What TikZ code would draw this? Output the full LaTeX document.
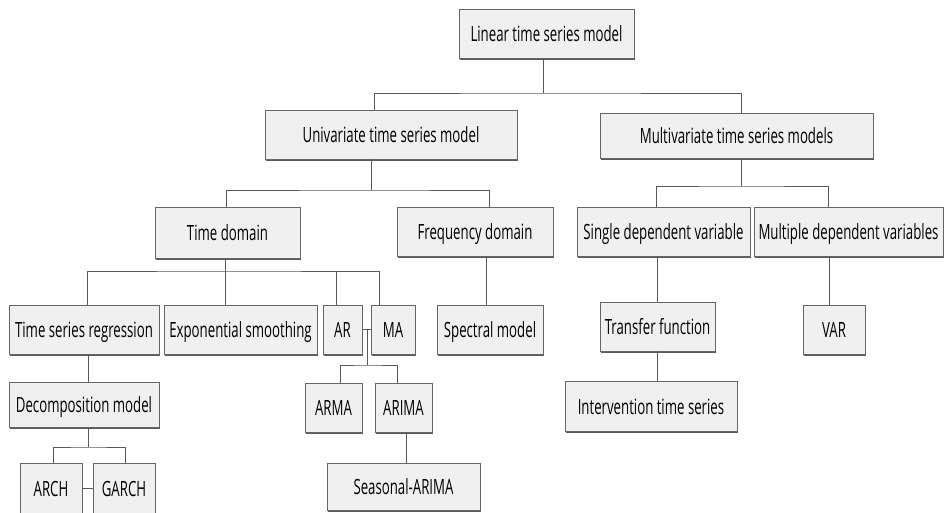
\documentclass[tikz,border=0pt]{standalone}
\usepackage{fontspec}
\setmainfont{Open Sans}[FakeStretch=0.63]
\usetikzlibrary{shadows}
\begin{document}
\begin{tikzpicture}[x=1pt,y=-1pt,
  box/.style={draw=black!60,line width=0.9pt,fill=black!6,inner sep=0pt,
    font=\fontsize{21}{24}\selectfont,text height=16pt,text depth=0pt,
    drop shadow={shadow xshift=0.8pt,shadow yshift=-1.6pt,fill=black!65,opacity=1}},
  conn/.style={draw=black!65,line width=0.9pt}]
\fill[white] (0,0) rectangle (944,513);
\useasboundingbox (0,0) rectangle (944,513);
\node[box,minimum width=175pt,minimum height=49pt] (lin) at (546.5,33.5) {Linear time series model};
\node[box,minimum width=252pt,minimum height=49pt] (uni) at (391,134.5) {Univariate time series model};
\node[box,minimum width=273pt,minimum height=45pt] (mul) at (736.5,135.5) {Multivariate time series models};
\node[box,minimum width=145pt,minimum height=51pt] (tdom) at (227.5,232.5) {Time domain};
\node[box,minimum width=156pt,minimum height=49pt] (fdom) at (475,231.5) {Frequency domain};
\node[box,minimum width=173pt,minimum height=49pt] (sdv) at (663.5,231.5) {Single dependent variable};
\node[box,minimum width=189pt,minimum height=49pt] (mdv) at (848.5,231.5) {Multiple dependent variables};
\node[box,minimum width=150pt,minimum height=49pt] (tsr) at (84,329.5) {Time series regression};
\node[box,minimum width=153pt,minimum height=49pt] (exs) at (240.5,329.5) {Exponential smoothing};
\node[box,minimum width=39pt,minimum height=49pt] (ar) at (342.5,329.5) {AR};
\node[box,minimum width=44pt,minimum height=49pt] (ma) at (393,329.5) {MA};
\node[box,minimum width=106pt,minimum height=49pt] (spec) at (490,329.5) {Spectral model};
\node[box,minimum width=115pt,minimum height=49pt] (tf) at (657.5,326.5) {Transfer function};
\node[box,minimum width=62pt,minimum height=49pt] (var) at (834,329.5) {VAR};
\node[box,minimum width=150pt,minimum height=45pt] (dec) at (84,404.5) {Decomposition model};
\node[box,minimum width=57pt,minimum height=49pt] (arma) at (333.5,407.5) {ARMA};
\node[box,minimum width=57pt,minimum height=49pt] (arima) at (403.5,407.5) {ARIMA};
\node[box,minimum width=172pt,minimum height=50pt] (its) at (651,406) {Intervention time series};
\node[box,minimum width=62pt,minimum height=50pt] (arch) at (51,488) {ARCH};
\node[box,minimum width=62pt,minimum height=50pt] (garch) at (124,488) {GARCH};
\node[box,minimum width=153pt,minimum height=47pt] (sar) at (403.5,486.5) {Seasonal-ARIMA};
% junctions
\coordinate (j1) at (543,93);
\coordinate (j2) at (371,190);
\coordinate (j3) at (741,186);
\coordinate (j4) at (225,271);
\coordinate (j5) at (367,330);
\coordinate (j6) at (367,365);
\coordinate (j7) at (88,447);
% connectors
\draw[conn] ([xshift=-3.5pt]lin.south) -- (j1);
\draw[conn] ([xshift=-17pt]uni.north) |- (j1) -| ([xshift=4.5pt]mul.north);
\draw[conn] ([xshift=-20pt]uni.south) -- (j2);
\draw[conn] ([xshift=-1.5pt]tdom.north) |- (j2) -| ([xshift=14pt]fdom.north);
\draw[conn] ([xshift=4.5pt]mul.south) -- (j3);
\draw[conn] ([xshift=-7.5pt]sdv.north) |- (j3) -| ([xshift=-20.5pt]mdv.north);
\draw[conn] ([xshift=-2.5pt]tdom.south) -- (j4);
\draw[conn] ([xshift=3pt]tsr.north) |- (j4) -| ([xshift=-14pt]ma.north);
\draw[conn] ([xshift=-6.5pt]ar.north) -- ([xshift=-6.5pt]ar.north |- j4);
\draw[conn] ([xshift=-15.5pt]exs.north) -- (j4);
\draw[conn] (ar.east) -- (ma.west);
\draw[conn] (j5) -- (j6);
\draw[conn] ([xshift=6.5pt]arma.north) |- (j6) -| ([xshift=-6.5pt]arima.north);
\draw[conn] ([xshift=2.5pt]arima.south) -- ([xshift=2.5pt]arima.south |- sar.north);
\draw[conn] ([xshift=4pt]tsr.south) -- ([xshift=4pt]tsr.south |- dec.north);
\draw[conn] ([xshift=4pt]dec.south) -- (j7);
\draw[conn] ([xshift=2pt]arch.north) |- (j7) -| ([xshift=1pt]garch.north);
\draw[conn] (arch.east) -- (garch.west);
\draw[conn] ([xshift=11pt]fdom.south) -- ([xshift=11pt]fdom.south |- spec.north);
\draw[conn] ([xshift=-6.5pt]sdv.south) -- ([xshift=-6.5pt]sdv.south |- tf.north);
\draw[conn] (tf.south) -- (tf.south |- its.north);
\draw[conn] ([xshift=-19.5pt]mdv.south) -- ([xshift=-19.5pt]mdv.south |- var.north);
\end{tikzpicture}
\end{document}
